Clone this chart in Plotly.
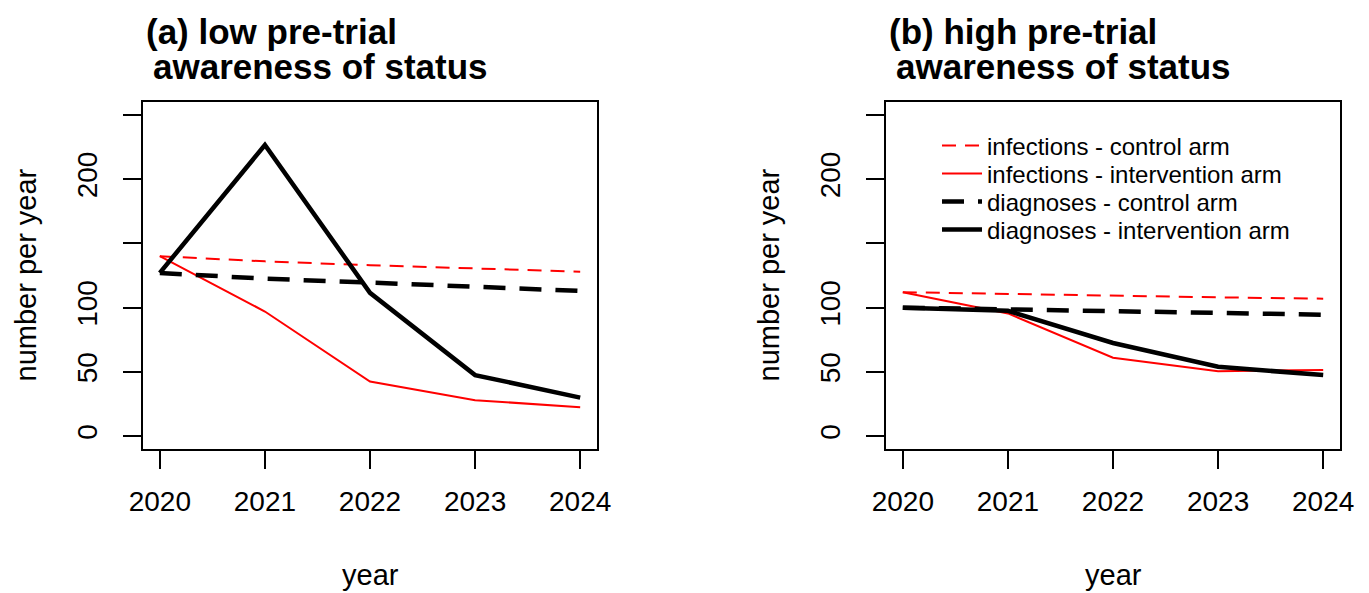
import plotly.graph_objects as go

years = [2020, 2021, 2022, 2023, 2024]

# panel (a): low pre-trial awareness of status
a_inf_ctrl = [140, 136, 133, 130.5, 128]
a_inf_int = [140, 97, 42.5, 28, 22.5]
a_diag_ctrl = [127, 122.5, 119.5, 116.5, 113]
a_diag_int = [127, 226.5, 111.5, 47.5, 30]

# panel (b): high pre-trial awareness of status
b_inf_ctrl = [112, 110.5, 109.5, 108, 107]
b_inf_int = [112, 95.5, 61, 50.5, 51.5]
b_diag_ctrl = [100, 98.5, 97, 96, 94.5]
b_diag_int = [100, 97.5, 72.5, 54, 47.5]

series_names = ["infections - control arm", "infections - intervention arm",
                "diagnoses - control arm", "diagnoses - intervention arm"]
y_tickvals = [0, 50, 100, 150, 200, 250]
y_ticktext = ["0", "50", "100", "", "200", ""]
titles = ["(a) low pre-trial", "(b) high pre-trial"]
title2 = "awareness of status"

W, H = 1369, 593
FONT = "Liberation Sans, Arial"

styles = [
    dict(color="#ff0000", width=2, dash="14px,9px"),
    dict(color="#ff0000", width=2, dash="solid"),
    dict(color="#000000", width=4.5, dash="22px,14px"),
    dict(color="#000000", width=4.5, dash="solid"),
]
legend_ids = ["legend", "legend2", "legend3", "legend4"]
legend_rows = [146, 174, 202, 230]

fig = go.Figure()
panels = [
    ("x", "y", [a_inf_ctrl, a_inf_int, a_diag_ctrl, a_diag_int], False),
    ("x2", "y2", [b_inf_ctrl, b_inf_int, b_diag_ctrl, b_diag_int], True),
]
for xa, ya, data, show in panels:
    for name, vals, st, lg in zip(series_names, data, styles, legend_ids):
        fig.add_trace(go.Scatter(x=years, y=vals, mode="lines", name=name,
                                 line=st, xaxis=xa, yaxis=ya, showlegend=show,
                                 legend=lg))

def px_x(p):
    return p / W

def px_y(p):
    return 1 - p / H

boxes = [(143, 597), (886, 1340)]
top, bottom = 102, 449

axis_common = dict(showline=True, linecolor="black", linewidth=2, mirror=True,
                   ticks="outside", ticklen=18, tickwidth=2, tickcolor="black",
                   showgrid=False, zeroline=False, automargin=False,
                   tickfont=dict(family=FONT, size=28, color="black"))

layout = dict(
    width=W, height=H, margin=dict(l=0, r=0, t=0, b=0, autoexpand=False),
    paper_bgcolor="white", plot_bgcolor="white",
    font=dict(family=FONT, color="black"),
)
for lg, row in zip(legend_ids, legend_rows):
    layout[lg] = dict(x=px_x(937), y=px_y(row), xanchor="left", yanchor="middle",
                      bgcolor="rgba(0,0,0,0)", borderwidth=0,
                      font=dict(family=FONT, size=24, color="black"),
                      itemwidth=40)
for i, (l, r) in enumerate(boxes):
    sx = "" if i == 0 else "2"
    layout["xaxis" + sx] = dict(axis_common, domain=[px_x(l), px_x(r)],
                                range=[2019.84, 2024.16], tickvals=years,
                                ticklabelstandoff=8,
                                anchor="y" + sx)
    layout["yaxis" + sx] = dict(axis_common, domain=[px_y(bottom), px_y(top)],
                                range=[-10, 260], tickvals=y_tickvals,
                                ticktext=y_ticktext, tickangle=-90,
                                ticklabelstandoff=15,
                                anchor="x" + sx)
fig.update_layout(**layout)

ann = []
for i, (l, r) in enumerate(boxes):
    ann.append(dict(text="<b>" + titles[i] + "</b>", x=px_x(l + 1), y=px_y(32),
                    xref="paper", yref="paper", xanchor="left", yanchor="middle",
                    showarrow=False, font=dict(family=FONT, size=35, color="black")))
    ann.append(dict(text="<b>" + title2 + "</b>", x=px_x(l + 8), y=px_y(66),
                    xref="paper", yref="paper", xanchor="left", yanchor="middle",
                    showarrow=False, font=dict(family=FONT, size=35, color="black")))
    ann.append(dict(text="year", x=px_x((l + r) / 2), y=px_y(575),
                    xref="paper", yref="paper", xanchor="center", yanchor="middle",
                    showarrow=False, font=dict(family=FONT, size=29, color="black")))
    ann.append(dict(text="number per year", x=px_x(l - 118), y=px_y((top + bottom) / 2),
                    xref="paper", yref="paper", xanchor="center", yanchor="middle",
                    textangle=-90, showarrow=False,
                    font=dict(family=FONT, size=29, color="black")))
fig.update_layout(annotations=ann)

fig.write_html("out.html", config={"displayModeBar": False},
               post_script="document.body.style.margin='0';document.body.style.overflow='hidden';")
